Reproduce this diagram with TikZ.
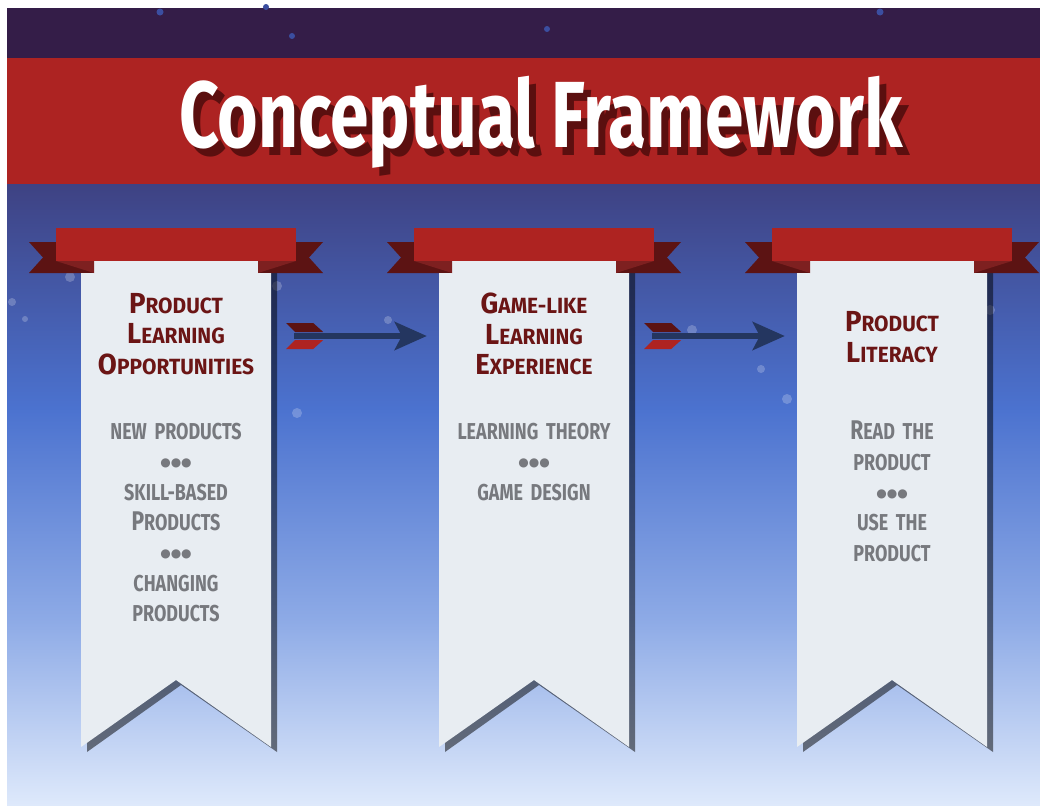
\documentclass[tikz,border=0pt]{standalone}
\usepackage{fontspec}
\usetikzlibrary{arrows.meta}
\newfontfamily\titlefont[FakeStretch=0.74]{Fira Sans}
\newfontfamily\bannerfont[FakeStretch=0.95]{Fira Sans}
\newfontfamily\notefont[FakeStretch=0.78]{Fira Sans}
\newfontfamily\dotfont{DejaVu Sans}
\definecolor{nightsky}{HTML}{341D48}
\definecolor{titlered}{HTML}{AD2322}
\definecolor{titleshade}{HTML}{5B0F0F}
\definecolor{ribbonred}{HTML}{AE2321}
\definecolor{taildark}{HTML}{5C1313}
\definecolor{foldred}{HTML}{7E2020}
\definecolor{paper}{HTML}{E8EDF2}
\definecolor{inkred}{HTML}{6B1515}
\definecolor{inkgray}{HTML}{77797E}
\definecolor{shaftblue}{HTML}{243660}
\definecolor{stardot}{HTML}{3B4EA0}
\definecolor{skyA}{HTML}{3E4283}
\definecolor{skyB}{HTML}{4B72CF}
\definecolor{skyC}{HTML}{8DAAE6}
\definecolor{skyD}{HTML}{DEE9FB}
\pgfdeclareverticalshading{skyfade}{100bp}{color(0bp)=(skyD); color(25bp)=(skyD);
  color(40bp)=(skyC); color(57bp)=(skyB); color(75bp)=(skyA); color(100bp)=(skyA)}
% initial letter larger, rest as small caps
\newcommand{\fsc}[2]{{\fontsize{29}{30.3}\selectfont #1}#2}
\newcommand{\nsc}[2]{{\fontsize{27}{30.3}\selectfont #1}#2}
\newcommand{\dotrow}{\raisebox{3pt}{\dotfont\fontsize{12}{30.3}\selectfont ●●●}}
% text with a dark drop shadow behind it
\newcommand{\shadowed}[1]{\rlap{\hspace{7pt}\raisebox{-8pt}{\textcolor{titleshade}{#1}}}#1}
\begin{document}
\begin{tikzpicture}[x=1pt, y=-1pt,
    header/.style={text width=190pt, align=center, inner sep=0pt, text=inkred,
                   font=\bannerfont\bfseries\fontsize{22}{30.3}\selectfont},
    note/.style={text width=190pt, align=center, inner sep=0pt, text=inkgray,
                 anchor=north, font=\notefont\bfseries\fontsize{23}{30.3}\selectfont},
    titletext/.style={anchor=base, inner sep=0pt, text=white,
                      font=\titlefont\bfseries\fontsize{94}{94}\selectfont},
    shaft/.style={draw=shaftblue, line width=6pt,
                  -{Stealth[length=32pt, width=28pt, inset=7pt]}},
    glow/.style={fill=white, opacity=0.22}
  ]
  \useasboundingbox (0,0) rectangle (1040,809);
  \fill[white] (0,0) rectangle (1040,809);
  % Sky
  \fill[nightsky] (7,8) rectangle (1040,58);
  \shade[shading=skyfade] (7,184) rectangle (1040,805);
  \foreach \x/\y/\r in {160/12/3.5, 266/7/3, 292/36/3, 547/29/3, 880/12/3.5}
    \fill[stardot] (\x,\y) circle (\r pt);
  \foreach \x/\y/\r in {12/302/4, 25/319/3, 70/277/5, 277/286/5, 297/413/5,
                        388/320/4, 692/330/5, 761/369/4, 787/399/5, 990/310/5}
    \fill[glow] (\x,\y) circle (\r pt);
  % Title band
  \fill[titlered] (7,58) rectangle (1040,184);
  \node[titletext] (title) at (541,147) {\shadowed{Conceptual Framework}};
  % Banners
  \foreach \cx in {176,534,892} {
    \fill[black, opacity=0.5] ({\cx-89},261) -- ({\cx+101},261) -- ({\cx+101},752)
      -- ({\cx+5},685) -- ({\cx-89},752) -- cycle;
    \fill[taildark] ({\cx-120},242) -- ({\cx-147},242) -- ({\cx-133},257.5)
      -- ({\cx-147},273) -- ({\cx-82},273) -- ({\cx-82},261) -- ({\cx-120},261) -- cycle;
    \fill[taildark] ({\cx+120},242) -- ({\cx+147},242) -- ({\cx+133},257.5)
      -- ({\cx+147},273) -- ({\cx+82},273) -- ({\cx+82},261) -- ({\cx+120},261) -- cycle;
    \fill[paper] ({\cx-95},261) -- ({\cx+95},261) -- ({\cx+95},747) -- ({\cx},680)
      -- ({\cx-95},747) -- cycle;
    \fill[taildark] ({\cx-120},261) rectangle ({\cx-82},273);
    \fill[foldred] ({\cx-120},261) -- ({\cx-82},261) -- ({\cx-82},273) -- cycle;
    \fill[taildark] ({\cx+82},261) rectangle ({\cx+120},273);
    \fill[foldred] ({\cx+120},261) -- ({\cx+82},261) -- ({\cx+82},273) -- cycle;
    \fill[ribbonred] ({\cx-120},228) rectangle ({\cx+120},261);
  }
  % Headers
  \node[header] (h1) at (176,334) {\fsc{P}{RODUCT}\\ \fsc{L}{EARNING}\\ \fsc{O}{PPORTUNITIES}};
  \node[header] (h2) at (534,334) {\fsc{G}{AME-LIKE}\\ \fsc{L}{EARNING}\\ \fsc{E}{XPERIENCE}};
  \node[header] (h3) at (892,337) {\fsc{P}{RODUCT}\\ \fsc{L}{ITERACY}};
  % Notes
  \node[note] (n1) at (176,423) {NEW PRODUCTS\\ \dotrow\\ SKILL-BASED\\ \nsc{P}{RODUCTS}\\
    \dotrow\\ CHANGING\\ PRODUCTS};
  \node[note] (n2) at (534,423) {LEARNING THEORY\\ \dotrow\\ GAME DESIGN};
  \node[note] (n3) at (892,421) {\nsc{R}{EAD THE}\\ PRODUCT\\ \dotrow\\ USE THE\\ PRODUCT};
  % Arrows
  \foreach \a/\b in {h1/h2, h2/h3} {
    \coordinate (s\a) at ([shift={(23,2)}]\a.east);
    \fill[taildark] (s\a) ++(-8,-13) -- ++(27,0) -- ++(10,9) -- ++(-28,0) -- cycle;
    \fill[ribbonred] (s\a) ++(1,4) -- ++(28,0) -- ++(-10,9) -- ++(-27,0) -- cycle;
    \draw[shaft] (s\a) -- ([xshift=-12pt]\b.west |- s\a);
  }
\end{tikzpicture}
\end{document}
